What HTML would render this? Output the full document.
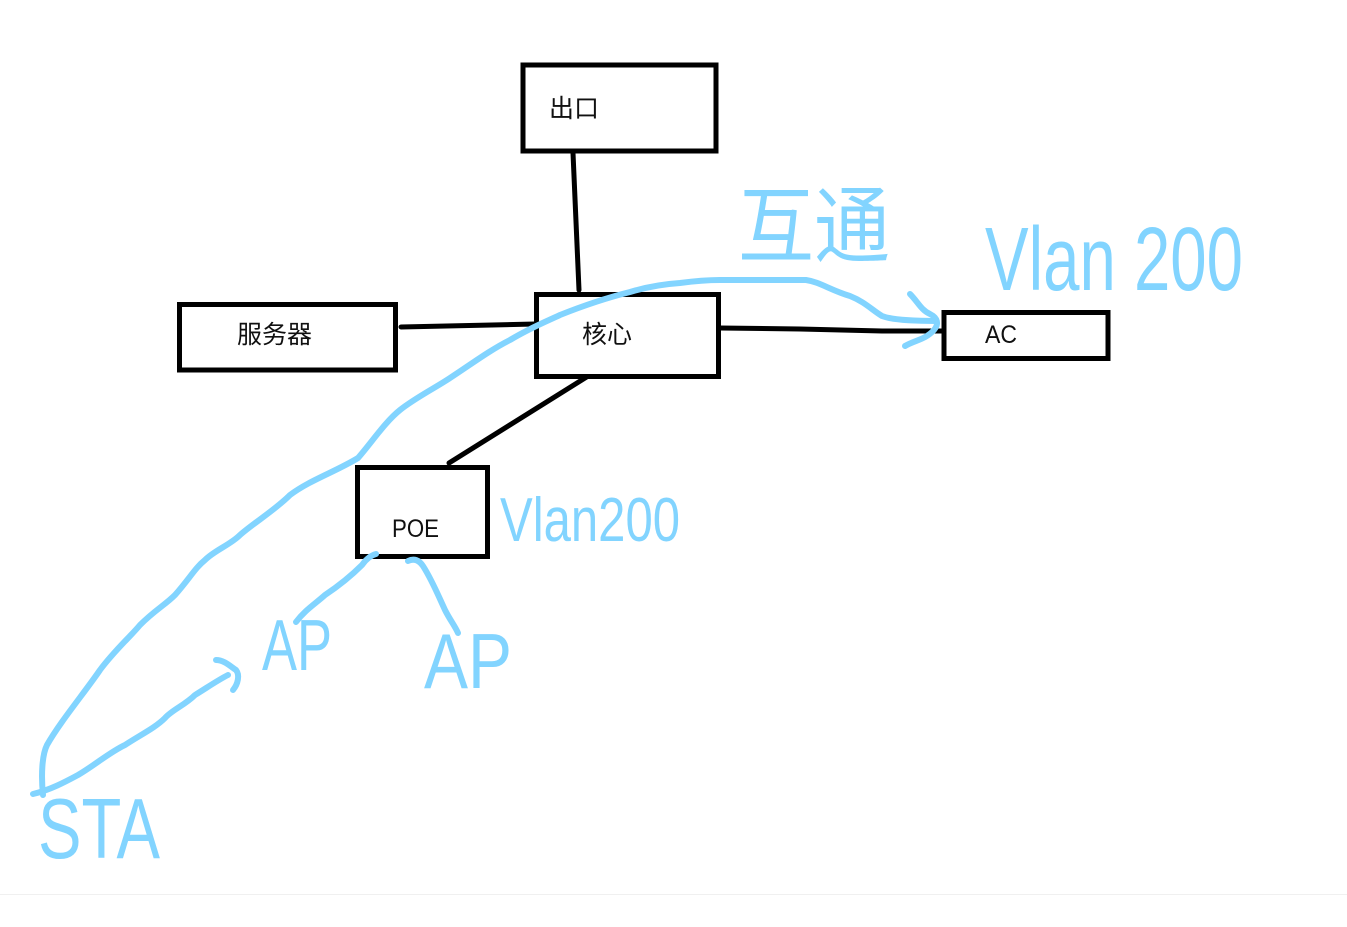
<!DOCTYPE html>
<html lang="zh">
<head>
<meta charset="utf-8">
<title>Network diagram</title>
<style>
html,body{margin:0;padding:0;background:#fff;width:1347px;height:927px;overflow:hidden}
svg{display:block}
.box{fill:#fff;stroke:#000;stroke-width:5}
.link{stroke:#000;stroke-width:5;fill:none;stroke-linecap:round}
.ink{stroke:#82d4ff;stroke-width:6;fill:none;stroke-linecap:round;stroke-linejoin:round}
.lbl{font-family:"Liberation Sans","Noto Sans CJK SC",sans-serif;font-size:25px;fill:#111}
.hand{font-family:"Liberation Sans","Noto Sans CJK SC",sans-serif;fill:#82d4ff}
</style>
</head>
<body>
<svg width="1347" height="927" viewBox="0 0 1347 927" xmlns="http://www.w3.org/2000/svg">
<rect width="1347" height="927" fill="#fff"/>
<line x1="0" y1="894.5" x2="1347" y2="894.5" stroke="#f0f0f0" stroke-width="1"/>

<path class="link" d="M573 153L579 290"/>
<path class="link" d="M401 327L535 324"/>
<path class="link" d="M720 328L800 329L882 331L943 331"/>
<path class="link" d="M593 373L449 463"/>

<rect class="box" x="523" y="65" width="193" height="86"/>
<rect class="box" x="179.500" y="304.500" width="216" height="65.500"/>
<rect class="box" x="536.500" y="294.500" width="182" height="82"/>
<rect class="box" x="944" y="312.500" width="164" height="46"/>
<rect class="box" x="357.500" y="467.500" width="130" height="89"/>

<text class="lbl" x="549" y="117">出口</text>
<text class="lbl" x="237" y="343">服务器</text>
<text class="lbl" x="582" y="343">核心</text>
<text class="lbl" x="985" y="343" textLength="32" lengthAdjust="spacingAndGlyphs">AC</text>
<text class="lbl" x="392" y="537" textLength="47" lengthAdjust="spacingAndGlyphs">POE</text>

<path class="ink" d="M43 795C41 775 42 755 47 745C60 722 85 692 100 670C115 650 130 637 140 625C155 610 165 605 175 595C190 578 195 568 205 560C215 550 230 545 240 535C255 522 275 510 290 495C310 480 335 472 358 458C372 442 385 422 400 410C415 398 435 388 450 378C470 365 490 350 510 340C530 328 545 322 560 315C585 305 610 297 630 292C650 286 665 284 680 283C695 281 705 280 720 280L806 280C820 282 830 290 850 296C865 302 872 310 882 316C892 320 915 321 936 321"/>
<path class="ink" d="M910 294C918 302 921 310 930 314C938 318 939 324 934 330C925 340 915 340 905 346"/>
<path class="ink" d="M33 794C50 790 65 782 78 775C95 765 110 752 125 745C140 735 155 728 165 718C172 710 185 705 195 695C208 687 218 680 228 675"/>
<path class="ink" d="M216 660C224 660 230 666 236 670C240 675 238 684 233 690"/>
<path class="ink" d="M296 622C305 610 315 604 325 595C340 585 352 575 362 565C367 558 372 555 376 554"/>
<path class="ink" d="M408 561C414 558 419 560 423 566C432 580 438 595 445 610C450 620 455 626 458 633"/>

<text class="hand" x="985" y="290" font-size="90" textLength="258" lengthAdjust="spacingAndGlyphs">Vlan 200</text>
<text class="hand" x="500" y="541" font-size="62" textLength="180" lengthAdjust="spacingAndGlyphs">Vlan200</text>
<text class="hand" x="262" y="670" font-size="72" textLength="70" lengthAdjust="spacingAndGlyphs">AP</text>
<text class="hand" x="424" y="688" font-size="78" textLength="88" lengthAdjust="spacingAndGlyphs">AP</text>
<text class="hand" x="38" y="858" font-size="85" textLength="122" lengthAdjust="spacingAndGlyphs">STA</text>
<text class="hand" x="738" y="256" font-size="84" textLength="152" lengthAdjust="spacingAndGlyphs">互通</text>
</svg>
</body>
</html>
